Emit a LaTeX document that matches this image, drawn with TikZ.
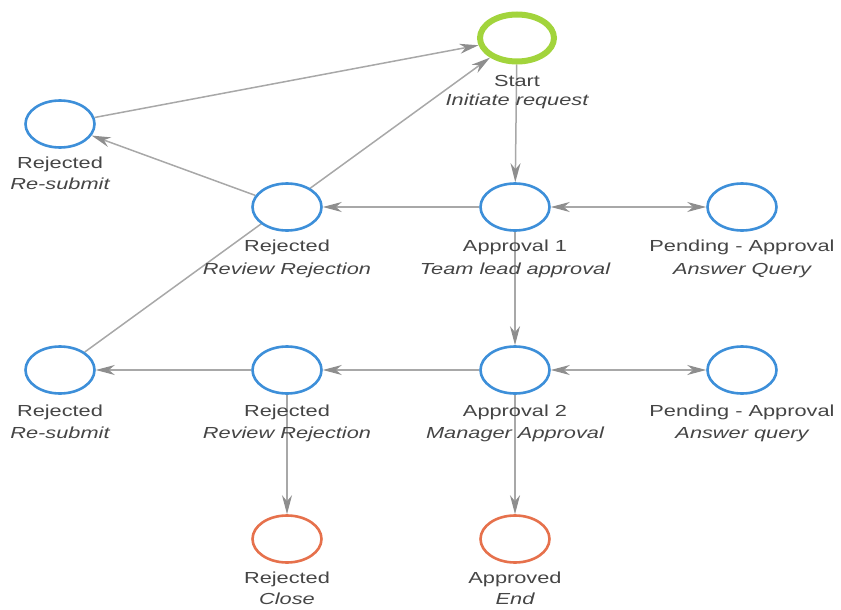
\documentclass[tikz,border=0pt]{standalone}
\usepackage{fontspec}
\newfontfamily\lbl{Liberation Sans}[FakeStretch=1.36]
\usetikzlibrary{shapes.geometric,arrows.meta,backgrounds}
\definecolor{edgegray}{HTML}{A8A8A8}
\definecolor{tipgray}{HTML}{8E8E8E}
\definecolor{stblue}{HTML}{3D8FD9}
\definecolor{storange}{HTML}{E6714C}
\definecolor{stgreen}{HTML}{A2D43C}
\definecolor{txtgray}{HTML}{454545}
\begin{document}
\begin{tikzpicture}[x=1pt,y=-1pt,
  state/.style={ellipse, draw=stblue, line width=2.6pt, fill=white,
    minimum width=69pt, minimum height=47pt, inner sep=0pt},
  endstate/.style={state, draw=storange},
  startstate/.style={state, draw=stgreen, line width=6pt,
    minimum width=74pt, minimum height=47pt},
  txt/.style={font=\lbl\fontsize{16}{22}\selectfont, text=txtgray, inner sep=0pt, anchor=base},
  ittxt/.style={txt, font=\lbl\fontsize{16}{22}\selectfont\itshape},
  edge/.style={draw=edgegray, line width=1.5pt, -{Stealth[length=19pt,width=10pt,inset=6pt,color=tipgray]}},
  both/.style={draw=edgegray, line width=1.5pt, {Stealth[length=19pt,width=10pt,inset=6pt,color=tipgray]}-{Stealth[length=19pt,width=10pt,inset=6pt,color=tipgray]}}
]
\useasboundingbox (0,0) rectangle (841,610);

% states
\node[startstate] (start) at (517,38) {};
\node[state] (rs1) at (60,124) {};
\node[state] (rr1) at (287,207) {};
\node[state] (a1) at (515,207) {};
\node[state] (p1) at (742,207) {};
\node[state] (rs2) at (60,370) {};
\node[state] (rr2) at (287,370) {};
\node[state] (a2) at (515,370) {};
\node[state] (p2) at (742,370) {};
\node[endstate] (cl) at (287,539) {};
\node[endstate] (en) at (515,539) {};

% labels
\node[txt] (startA) at (517,87) {Start};
\node[ittxt] (startB) at (517,106) {Initiate request};
\node[txt] (rs1A) at (60,168) {Rejected};
\node[ittxt] (rs1B) at (60,189) {Re-submit};
\node[txt] (rr1A) at (287,251) {Rejected};
\node[ittxt] (rr1B) at (287,274) {Review Rejection};
\node[txt] (a1A) at (515,251) {Approval 1};
\node[ittxt] (a1B) at (515,274) {Team lead approval};
\node[txt] (p1A) at (742,251) {Pending - Approval};
\node[ittxt] (p1B) at (742,274) {Answer Query};
\node[txt] (rs2A) at (60,416) {Rejected};
\node[ittxt] (rs2B) at (60,438) {Re-submit};
\node[txt] (rr2A) at (287,416) {Rejected};
\node[ittxt] (rr2B) at (287,438) {Review Rejection};
\node[txt] (a2A) at (515,416) {Approval 2};
\node[ittxt] (a2B) at (515,438) {Manager Approval};
\node[txt] (p2A) at (742,416) {Pending - Approval};
\node[ittxt] (p2B) at (742,438) {Answer query};
\node[txt] (clA) at (287,583) {Rejected};
\node[ittxt] (clB) at (287,604) {Close};
\node[txt] (enA) at (515,583) {Approved};
\node[ittxt] (enB) at (515,604) {End};

% connectors
\begin{pgfonlayer}{background}
\draw[edge] (rs1) -- (start);
\draw[edge] (rs2) -- (start);
\draw[edge] (rr1) -- (rs1);
\draw[edge] (a1) -- (rr1);
\draw[both] (a1) -- (p1);
\draw[edge] (start) -- (a1);
\draw[edge] (a1) -- (a2);
\draw[edge] (rr2) -- (rs2);
\draw[edge] (a2) -- (rr2);
\draw[both] (a2) -- (p2);
\draw[edge] (rr2) -- (cl);
\draw[edge] (a2) -- (en);
\end{pgfonlayer}
\end{tikzpicture}
\end{document}
